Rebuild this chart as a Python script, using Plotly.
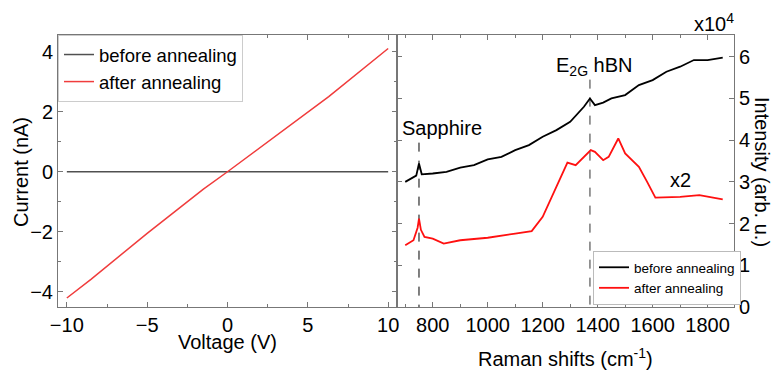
import plotly.graph_objects as go

# ---------------- data ----------------
iv_voltage = [-10, -8.5, -5, -1.5, 0, 5, 6.3, 10]
iv_before = [0, 0, 0, 0, 0, 0, 0, 0]
iv_after = [-4.2, -3.58, -2.05, -0.58, 0.0, 1.97, 2.5, 4.1]

raman_before_x = [700, 720, 740, 750, 760, 800, 850, 900, 950, 1000, 1050, 1100, 1150, 1200,
                  1250, 1300, 1350, 1372, 1390, 1420, 1450, 1500, 1550, 1600, 1650, 1700,
                  1750, 1800, 1855]
raman_before_y = [3.0, 3.08, 3.15, 3.44, 3.18, 3.2, 3.24, 3.34, 3.4, 3.54, 3.6, 3.76, 3.88, 4.08,
                  4.24, 4.44, 4.8, 5.0, 4.84, 4.9, 5.0, 5.08, 5.32, 5.44, 5.64, 5.76,
                  5.92, 5.92, 5.98]

raman_after_x = [700, 730, 745, 750, 757, 770, 800, 840, 900, 1000, 1100, 1160, 1200, 1250,
                 1290, 1320, 1350, 1375, 1390, 1420, 1440, 1475, 1500, 1550, 1580, 1610,
                 1700, 1770, 1855]
raman_after_y = [1.48, 1.6, 1.9, 2.12, 1.85, 1.68, 1.64, 1.52, 1.6, 1.66, 1.76, 1.82, 2.16, 2.88,
                 3.46, 3.4, 3.6, 3.76, 3.72, 3.52, 3.6, 4.04, 3.68, 3.36, 3.0, 2.62,
                 2.64, 2.68, 2.58]

sapphire_x = 750
sapphire_top = 3.94
hbn_x = 1372
hbn_top = 5.45

xticks_left = [-10, -5, 0, 5, 10]
yticks_left = [-4, -2, 0, 2, 4]
xticks_right = [800, 1000, 1200, 1400, 1600, 1800]
yticks_right = [0, 1, 2, 3, 4, 5, 6]

# ---------------- figure ----------------
FONT = "Liberation Sans, Arial, sans-serif"
W, H = 774, 371
axcol = "#777777"

fig = go.Figure()

fig.add_trace(go.Scatter(x=iv_voltage, y=iv_before, mode="lines", name="before annealing",
                         line=dict(color="#505050", width=1.5), xaxis="x", yaxis="y",
                         legend="legend"))
fig.add_trace(go.Scatter(x=iv_voltage, y=iv_after, mode="lines", name="after annealing",
                         line=dict(color="#f03c3c", width=1.5), xaxis="x", yaxis="y",
                         legend="legend"))

fig.add_trace(go.Scatter(x=[sapphire_x, sapphire_x], y=[sapphire_top, 0], mode="lines",
                         line=dict(color="black", width=1, dash="dash"), showlegend=False,
                         xaxis="x2", yaxis="y2", hoverinfo="skip"))
fig.add_trace(go.Scatter(x=[hbn_x, hbn_x], y=[hbn_top, 0], mode="lines",
                         line=dict(color="#333333", width=1, dash="dash"), showlegend=False,
                         xaxis="x2", yaxis="y2", hoverinfo="skip"))

fig.add_trace(go.Scatter(x=raman_before_x, y=raman_before_y, mode="lines", name="before annealing",
                         line=dict(color="black", width=1.8), xaxis="x2", yaxis="y2",
                         legend="legend2"))
fig.add_trace(go.Scatter(x=raman_after_x, y=raman_after_y, mode="lines", name="after annealing",
                         line=dict(color="#ff1010", width=1.8), xaxis="x2", yaxis="y2",
                         legend="legend2"))

x1d = [58 / W, 397 / W]
x2d = [397 / W, 734 / W]
yd = [1 - 307 / H, 1 - 35 / H]

common = dict(showline=True, linecolor=axcol, linewidth=1, mirror="ticks", ticks="inside",
              ticklen=5, tickcolor=axcol, showgrid=False, zeroline=False, automargin=False,
              tickfont=dict(family=FONT, size=20, color="black"))

fig.update_layout(
    template="none",
    width=W, height=H,
    margin=dict(l=0, r=0, t=0, b=0, autoexpand=False),
    paper_bgcolor="white", plot_bgcolor="white",
    font=dict(family=FONT, color="black"),
    xaxis=dict(domain=x1d, range=[-10.55, 10.55], anchor="y", tickvals=xticks_left,
               ticktext=["\u221210", "\u22125", "0", "5", "10"],
               minor=dict(dtick=2.5, ticks="inside", ticklen=3, tickcolor=axcol, showgrid=False),
               **common),
    yaxis=dict(domain=yd, range=[-4.5, 4.55], anchor="x", tickvals=yticks_left,
               ticktext=["\u22124", "\u22122", "0", "2", "4"],
               minor=dict(dtick=1, ticks="inside", ticklen=3, tickcolor=axcol, showgrid=False),
               **common),
    xaxis2=dict(domain=x2d, range=[670, 1896], anchor="y2", tickvals=xticks_right,
                minor=dict(dtick=100, ticks="inside", ticklen=3, tickcolor=axcol, showgrid=False),
                **common),
    yaxis2=dict(domain=yd, range=[0, 6.52], anchor="x2", side="right", tickvals=yticks_right,
                **common),
    legend=dict(x=58 / W, y=1 - 35 / H, xanchor="left", yanchor="top",
                bordercolor="#cccccc", borderwidth=1, bgcolor="white",
                font=dict(family=FONT, size=18.5, color="black"), tracegroupgap=0),
    legend2=dict(x=593 / W, y=1 - 251 / H, xanchor="left", yanchor="top",
                 bordercolor="#bbbbbb", borderwidth=1, bgcolor="white",
                 font=dict(family=FONT, size=13.5, color="black"), tracegroupgap=0),
    showlegend=True,
)

ann = [
    dict(text="Voltage (V)", x=227 / W, y=1 - 342 / H, font=dict(size=20)),
    dict(text="Current (nA)", x=21 / W, y=1 - 172 / H, textangle=-90, font=dict(size=20)),
    dict(text="Raman shifts (cm<sup>-1</sup>)", x=565 / W, y=1 - 357 / H, font=dict(size=20)),
    dict(text="Intensity (arb. u.)", x=762 / W, y=1 - 172 / H, textangle=90, font=dict(size=20)),
    dict(text="x10<sup>4</sup>", x=714 / W, y=1 - 22 / H, font=dict(size=20)),
    dict(text="Sapphire", x=442 / W, y=1 - 128 / H, font=dict(size=20)),
    dict(text="E<sub>2G</sub> hBN", x=594 / W, y=1 - 66 / H, font=dict(size=20)),
    dict(text="x2", x=680 / W, y=1 - 180 / H, font=dict(size=20)),
]
for a in ann:
    a.update(xref="paper", yref="paper", showarrow=False, xanchor="center", yanchor="middle")
    a["font"].update(family=FONT, color="black")
fig.update_layout(annotations=ann)

fig.write_html(
    "out.html",
    config={"displayModeBar": False},
    post_script="document.body.style.margin='0';document.body.style.overflow='hidden';",
)
